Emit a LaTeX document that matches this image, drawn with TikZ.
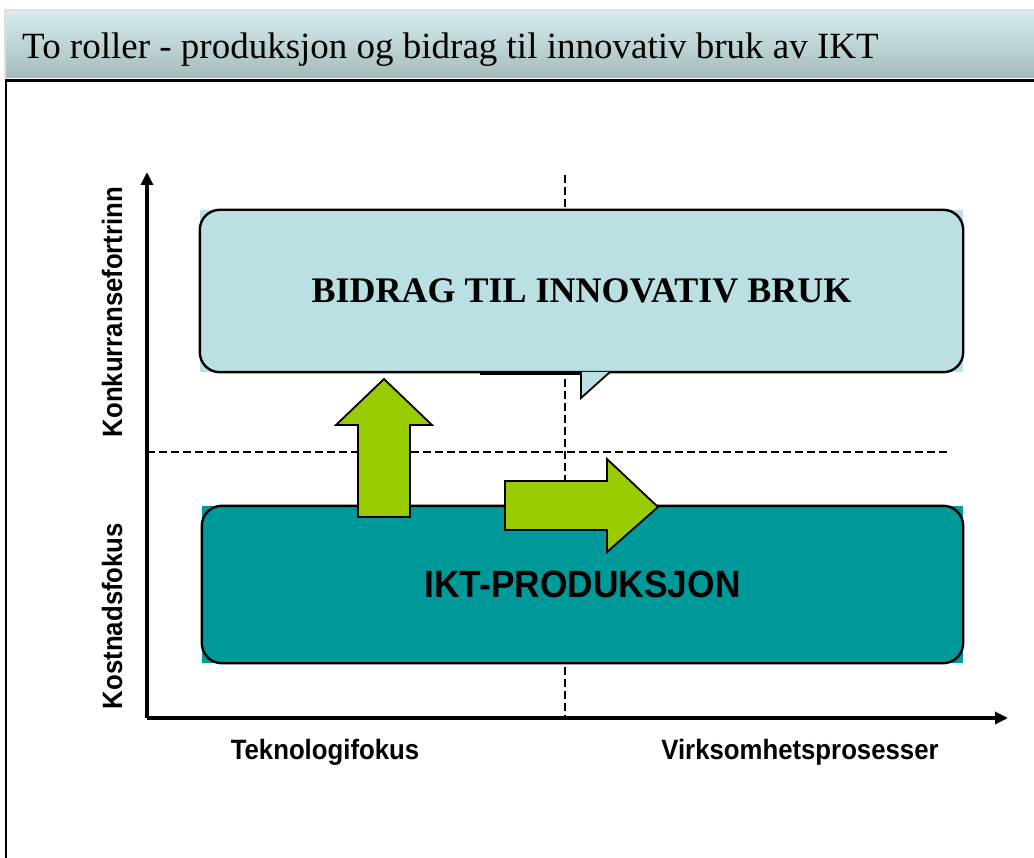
\documentclass[tikz,border=0pt]{standalone}
\usepackage{fontspec}
\setmainfont{Liberation Serif}
\newfontfamily\axisfont[FakeStretch=0.92]{Liberation Sans}
\newfontfamily\boxfont[FakeStretch=0.93]{Liberation Sans}
\usepackage{tikz}
\usetikzlibrary{arrows.meta, positioning}

\definecolor{titletop}{HTML}{D6ECEE}
\definecolor{titlebot}{HTML}{A6BCBC}
\definecolor{bidragfill}{HTML}{BBE0E3}
\definecolor{iktfill}{HTML}{009999}
\definecolor{pilgreen}{HTML}{99CC00}

\begin{document}
\begin{tikzpicture}[x=1pt, y=-1pt,
  box/.style={rectangle, inner sep=0pt, text centered},
  edge/.style={draw, line width=2.4pt, rounded corners=20pt},
  axis/.style={-{Triangle[length=13pt,width=12pt]}, line width=3.2pt},
  guide/.style={line width=2.2pt, dash pattern=on 8pt off 4pt},
  pil/.style={draw, fill=pilgreen, line width=1.8pt, line join=miter},
  axislabel/.style={font=\axisfont\bfseries\fontsize{28}{28}\selectfont, inner sep=0pt}
]
\useasboundingbox (0,0) rectangle (1034,858);

% title bar
\shade[top color=titletop, bottom color=titlebot] (5,10) rectangle (1034,78);
\draw[gray!25, line width=1.5pt] (1034,10) -- (5,10) -- (5,78);
\node[anchor=base west, inner sep=0pt, font=\fontsize{37}{37}\selectfont] (title) at (22,59)
  {To roller - produksjon og bidrag til innovativ bruk av IKT};
\draw[line width=3pt] (5,81) -- (1034,81);
\draw[line width=2pt] (6,81) -- (6,858);

% axes and quadrant lines
\coordinate (origin) at (147,718);
\coordinate (ytip)   at (147,172);
\coordinate (xtip)   at (1008,718);
\coordinate (vtop)   at (565,175);
\coordinate (vbot)   at (565,718);
\coordinate (hleft)  at (147,452);
\coordinate (hright) at (950,452);
\draw[guide] (vtop) -- (vbot);
\draw[guide] (hleft) -- (hright);
\draw[axis] (origin) -- (ytip);
\draw[axis] (origin) -- (xtip);

% the two roles
\node[box, fill=bidragfill, minimum width=763pt, minimum height=162pt,
      font=\bfseries\fontsize{36}{36}\selectfont] (bidrag) at (581.5,291) {BIDRAG TIL INNOVATIV BRUK};
\draw[edge] (bidrag.south west) rectangle (bidrag.north east);
\draw[fill=bidragfill, line width=1.8pt] (581,372) -- (581,398) -- (610,372);
\draw[line width=3pt] (480,374) -- (581,374);

\node[box, fill=iktfill, minimum width=761pt, minimum height=157pt,
      font=\boxfont\bfseries\fontsize{38}{38}\selectfont] (ikt) at (582.5,584.5) {IKT-PRODUKSJON};
\draw[edge] (ikt.south west) rectangle (ikt.north east);

% green arrows
\draw[pil] (358,517) -- (358,425) -- (336,425) -- (384,379) -- (432,425)
  -- (410,425) -- (410,517) -- cycle;
\draw[pil] (505,481) -- (607,481) -- (607,459) -- (658,507) -- (607,552)
  -- (607,530) -- (505,530) -- cycle;

% axis labels
\node[axislabel, rotate=90] (konk) at (112,312) {Konkurransefortrinn};
\node[axislabel, rotate=90] (kost) at (112,616) {Kostnadsfokus};
\node[axislabel] (tekn) at (325,752) {Teknologifokus};
\node[axislabel] (virk) at (800,752) {Virksomhetsprosesser};
\end{tikzpicture}
\end{document}
